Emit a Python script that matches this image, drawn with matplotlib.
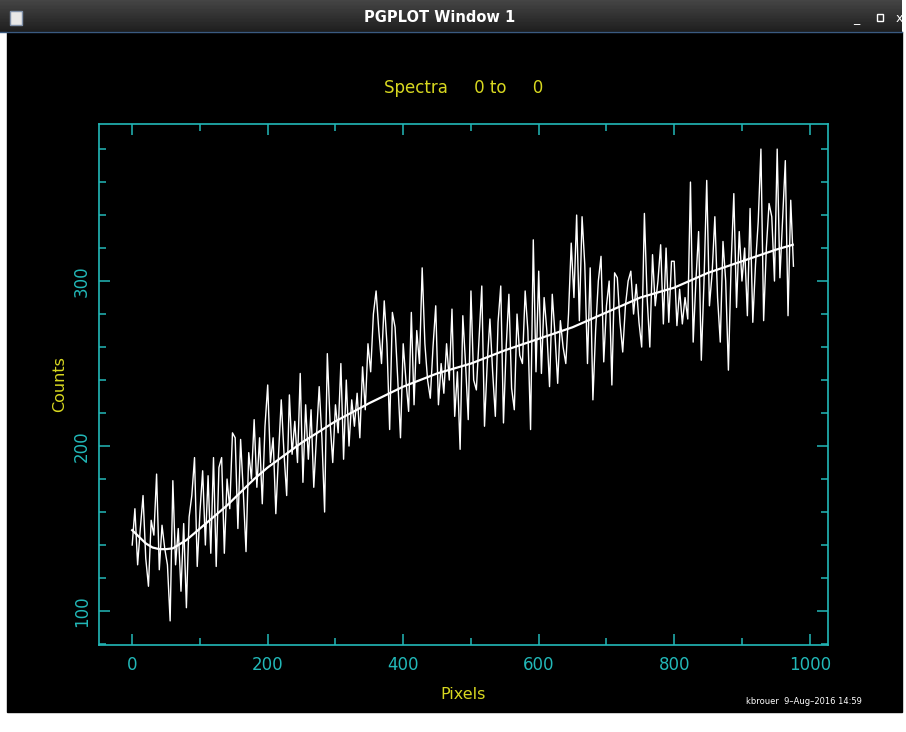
import matplotlib
matplotlib.use("Agg")
import matplotlib.pyplot as plt
from matplotlib.patches import Rectangle
import numpy as np

# spectrum counts, one value every 4 pixels (0..976)
counts = [
	140, 162, 128, 150, 170, 132, 115, 155, 146, 183,
	125, 152, 138, 128, 94, 179, 128, 150, 112, 153,
	102, 157, 170, 193, 127, 160, 185, 140, 182, 135,
	193, 127, 187, 193, 135, 180, 162, 208, 205, 150,
	204, 172, 136, 196, 180, 216, 175, 205, 165, 212,
	237, 190, 205, 159, 195, 228, 196, 170, 231, 195,
	215, 190, 244, 178, 225, 192, 222, 175, 205, 236,
	205, 160, 256, 215, 190, 225, 208, 250, 192, 240,
	200, 228, 212, 232, 205, 248, 222, 262, 245, 280,
	294, 270, 250, 288, 262, 210, 281, 272, 240, 205,
	262, 240, 221, 281, 225, 270, 250, 308, 262, 240,
	229, 260, 285, 225, 250, 232, 262, 240, 283, 218,
	245, 198, 279, 250, 216, 294, 240, 234, 265, 297,
	212, 250, 277, 245, 218, 275, 297, 214, 260, 292,
	235, 222, 280, 255, 250, 294, 270, 210, 325, 245,
	306, 244, 290, 270, 236, 292, 268, 238, 276, 260,
	250, 280, 323, 290, 340, 276, 339, 310, 250, 308,
	228, 270, 300, 315, 251, 285, 300, 237, 305, 302,
	275, 257, 285, 300, 306, 280, 298, 275, 260, 341,
	290, 260, 316, 285, 300, 322, 274, 320, 275, 312,
	312, 273, 295, 274, 290, 277, 360, 263, 300, 330,
	252, 300, 361, 285, 305, 339, 290, 263, 324, 300,
	246, 310, 353, 284, 330, 300, 320, 279, 344, 275,
	310, 336, 380, 276, 320, 347, 339, 300, 380, 302,
	338, 373, 279, 349, 309,
]
pixels = np.arange(0, 4 * len(counts), 4)

# smooth fit drawn over the spectrum
fit_px = [0, 10, 20, 30, 40, 50, 60, 80, 100, 120, 140, 160, 180, 200, 250,
	300, 350, 400, 450, 500, 550, 600, 650, 700, 750, 800, 850, 900, 950, 975]
fit_val = [149, 145, 141, 138.5, 137.5, 137.5, 138, 143, 150, 157, 164, 172, 180, 187, 202,
	215, 226, 236, 244, 250, 258, 265, 272, 281, 290, 296, 305, 312, 319, 322]

title = "Spectra     0 to     0"
stamp = "kbrouer  9\u2013Aug\u20132016 14:59"

W, H = 906, 732
cyan = "#22b8b8"
yellow = "#d8d820"

fig = plt.figure(figsize=(W / 100, H / 100), dpi=100)
fig.patch.set_facecolor("white")

# window frame, drawn in pixel coordinates
bg = fig.add_axes([0, 0, 1, 1])
bg.set_xlim(0, W)
bg.set_ylim(H, 0)
bg.axis("off")
bg.add_patch(Rectangle((7, 32), 895, 680, color="black"))
bar = np.linspace(0.27, 0.12, 32).reshape(-1, 1)
bg.imshow(bar, cmap="gray", vmin=0, vmax=1, extent=(0, 902, 32, 0), aspect="auto")
bg.plot([0, 902], [31.5, 31.5], color="#3a5a80", lw=1)
bg.add_patch(Rectangle((10, 11), 12, 14, facecolor="#e8e8e8", edgecolor="#8090a8", lw=1))
bg.text(440, 17, "PGPLOT Window 1", color="white", fontsize=10.5, fontweight="bold",
	ha="center", va="center")
bg.text(856, 19, "_", color="white", fontsize=9, ha="center", va="center")
bg.add_patch(Rectangle((877, 14), 6, 7, facecolor="none", edgecolor="white", lw=1))
bg.text(899, 18, "x", color="white", fontsize=9, ha="center", va="center")
bg.set_xlim(0, W)
bg.set_ylim(H, 0)

ax = fig.add_axes([99 / W, 1 - 645 / H, (828 - 99) / W, (645 - 124) / H])
ax.set_facecolor("black")
ax.plot(pixels, counts, color="white", lw=1.0)
ax.plot(fit_px, fit_val, color="white", lw=1.6)

ax.set_xlim(-49, 1027)
ax.set_ylim(79.4, 395.2)
ax.set_xticks([0, 200, 400, 600, 800, 1000])
ax.set_xticks(np.arange(-0, 1001, 100), minor=True)
ax.set_yticks([100, 200, 300])
ax.set_yticks(np.arange(80, 400, 20), minor=True)
for s in ax.spines.values():
	s.set_color(cyan)
	s.set_linewidth(1.2)
ax.tick_params(which="both", direction="in", top=True, right=True, colors=cyan, width=1.1)
ax.tick_params(which="major", length=8, labelsize=12, pad=8)
ax.tick_params(which="minor", length=5)
ax.tick_params(axis="y", pad=6)
for lab in ax.get_yticklabels():
	lab.set_rotation(90)
	lab.set_va("center")

ax.set_title(title, color=yellow, fontsize=12, pad=22)
ax.set_xlabel("Pixels", color=yellow, fontsize=11.5, labelpad=9)
ax.set_ylabel("Counts", color=yellow, fontsize=11.5, labelpad=4)

fig.text(862 / W, 1 - 701 / H, stamp, color="white", fontsize=6, ha="right", va="center")

fig.savefig("out.png", dpi=100)
